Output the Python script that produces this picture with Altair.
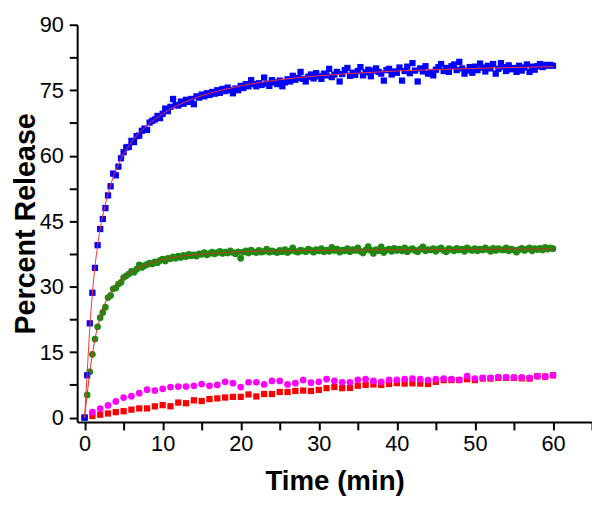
import altair as alt
import pandas as pd

# ---- data ----
blue_values = [
    0.0, 9.7, 21.6, 28.6, 34.3, 39.5, 43.2, 45.5, 48.0, 50.9, 53.0, 55.9, 55.5, 57.5, 59.4,
    60.8, 61.9, 62.0, 63.4, 63.1, 64.5, 64.6, 65.7, 66.2, 65.9, 67.6, 68.0, 68.3, 69.1, 68.6,
    69.6, 70.8, 70.2, 71.2, 73.0, 71.6, 71.5, 72.4, 71.9, 72.8, 72.3, 73.0, 71.8, 73.6, 73.3,
    74.0, 73.6, 74.3, 73.9, 74.6, 74.2, 75.0, 74.4, 75.3, 74.8, 75.6, 75.0, 74.3, 75.4, 75.0,
    76.0, 75.5, 76.4, 75.9, 77.3, 76.4, 75.9, 76.6, 76.2, 77.9, 76.5, 76.0, 77.3, 76.8, 76.4,
    77.2, 75.9, 76.8, 77.5, 77.0, 78.3, 77.4, 77.8, 79.2, 77.6, 77.0, 78.1, 78.6, 77.7, 78.9,
    78.2, 77.6, 78.8, 78.4, 79.9, 78.0, 78.6, 79.2, 77.0, 78.7, 79.6, 80.1, 78.3, 79.0, 78.5,
    79.4, 80.3, 78.4, 79.1, 79.7, 78.2, 79.5, 80.0, 79.2, 78.8, 77.2, 79.6, 79.9, 78.6, 79.3,
    79.0, 80.2, 77.2, 79.4, 80.4, 78.9, 81.2, 79.5, 77.0, 80.0, 79.3, 80.5, 78.8, 79.1, 78.4,
    79.7, 80.3, 81.0, 79.4, 80.1, 79.2, 80.5, 80.9, 79.6, 81.5, 80.0, 78.8, 79.5, 80.3, 79.0,
    80.4, 79.6, 81.1, 80.2, 79.3, 80.6, 80.0, 81.0, 78.8, 79.9, 81.2, 80.3, 79.4, 80.7, 79.8,
    80.1, 79.2, 80.6, 79.5, 80.2, 80.9, 79.2, 80.4, 79.7, 80.5, 81.0, 80.3, 80.8, 80.6, 80.8,
    80.6,
]

green_values = [
    0.0, 5.2, 10.5, 14.5, 18.0, 20.8, 22.9, 24.1, 25.3, 27.5, 28.0, 29.5, 29.7, 30.6, 31.0,
    32.1, 32.5, 32.9, 33.5, 33.3, 34.0, 35.0, 34.4, 34.8, 35.1, 35.4, 35.2, 35.7, 35.5, 36.0,
    36.3, 35.9, 36.5, 36.4, 36.8, 36.5, 37.0, 36.7, 37.2, 36.9, 37.4, 37.1, 37.3, 37.0, 37.5,
    37.4, 37.8, 37.3, 37.6, 37.9, 37.5, 37.8, 38.1, 37.6, 37.9, 37.7, 38.2, 37.8, 37.5, 38.0,
    36.5, 37.9, 38.2, 37.7, 38.4, 38.0, 37.8, 38.3, 37.9, 38.1, 38.6, 37.9, 38.2, 38.0, 37.8,
    38.3, 38.0, 38.5, 37.8, 38.2, 38.9, 38.1, 37.9, 38.4, 38.2, 38.0, 38.6, 38.3, 37.9, 38.5,
    38.2, 38.7, 38.0, 38.4, 38.1, 39.0, 38.3, 38.6, 37.9, 38.4, 38.2, 38.7, 38.0, 38.5, 38.3,
    38.9, 38.1, 37.7, 38.4, 39.2, 38.3, 37.6, 38.5, 38.2, 39.1, 37.8, 38.4, 38.6, 38.1, 38.8,
    38.3, 38.6, 38.2, 38.9, 38.0, 38.5, 38.7, 38.3, 38.0, 38.6, 39.1, 38.2, 38.5, 38.4, 38.7,
    38.1, 38.6, 38.9, 38.3, 38.0, 38.7, 38.5, 38.2, 38.8, 38.4, 38.6, 38.1, 38.9, 38.5, 38.3,
    38.7, 38.2, 38.6, 38.4, 38.9, 38.5, 38.1, 38.8, 38.3, 38.7, 38.5, 38.4, 38.9, 38.2, 38.6,
    38.4, 37.9, 38.5, 38.8, 38.3, 38.6, 38.9, 38.2, 38.7, 38.5, 38.8, 38.4, 39.0, 38.6, 38.9,
    38.7,
]

magenta_values = [
    0.0, 1.25, 2.05, 2.8, 3.7, 4.6, 4.9, 5.6, 6.4, 6.2,
    6.6, 7.0, 7.1, 7.1, 7.3, 7.7, 7.3, 7.5, 8.2, 7.9,
    7.0, 8.1, 8.1, 7.6, 8.4, 8.4, 7.6, 7.9, 8.6, 8.0,
    8.2, 8.8, 8.4, 8.1, 8.1, 8.65, 8.8, 8.4, 8.2, 8.65,
    8.65, 8.8, 8.95, 8.8, 8.6, 8.8, 8.95, 8.8, 8.65, 9.5,
    8.95, 9.1, 9.1, 9.3, 9.2, 9.2, 9.2, 9.1, 9.5, 9.4, 9.7,
]

red_values = [
    0.0, 0.37, 0.66, 0.95, 1.25, 1.47, 1.83, 2.1, 2.1, 2.57,
    2.86, 2.6, 3.45, 3.3, 3.96, 3.8, 4.25, 4.4, 4.6, 4.75,
    4.75, 5.3, 4.85, 5.4, 5.4, 5.87, 5.87, 6.1, 6.2, 6.1,
    6.35, 6.75, 7.0, 6.75, 6.8, 7.3, 7.5, 7.6, 7.5, 7.7,
    7.9, 7.8, 7.85, 7.8, 7.7, 8.2, 8.6, 8.6, 8.6, 8.8,
    8.6, 8.95, 8.95, 9.1, 9.1, 9.1, 9.0, 8.95, 9.5, 9.4, 9.7,
]

fit_time = [0, 0.33, 0.67, 1, 1.33, 1.67, 2, 2.5, 3, 3.5, 4, 4.5, 5, 6, 7, 8, 9, 10,
            12, 14, 16, 18, 20, 25, 30, 35, 40, 45, 50, 55, 60]
blue_fit = [0, 10.2, 20.5, 28.4, 34.6, 39.4, 43.3, 47.6, 51.2, 54.2, 56.6, 58.6, 60.4,
            63.1, 65.2, 66.9, 68.3, 69.6, 71.6, 73.1, 74.3, 75.2, 76.0, 77.4, 78.3, 78.9,
            79.4, 79.7, 80.0, 80.2, 80.4]
green_fit = [0, 5.3, 10.4, 14.5, 18.0, 20.8, 23.0, 25.7, 27.6, 29.1, 30.3, 31.3, 32.1,
             33.4, 34.4, 35.1, 35.7, 36.2, 36.9, 37.3, 37.6, 37.8, 38.0, 38.2, 38.3, 38.4,
             38.45, 38.5, 38.55, 38.6, 38.6]

x_ticks = [0, 5, 10, 15, 20, 25, 30, 35, 40, 45, 50, 55, 60, 65]
y_ticks = [0, 7.5, 15, 22.5, 30, 37.5, 45, 52.5, 60, 67.5, 75, 82.5, 90]

# sampling grids
fast_time = [round(i / 3, 3) for i in range(len(blue_values))]
slow_time = list(range(len(red_values)))

blue_df = pd.DataFrame({"t": fast_time, "v": blue_values})
green_df = pd.DataFrame({"t": fast_time, "v": green_values})
magenta_df = pd.DataFrame({"t": slow_time, "v": magenta_values})
red_df = pd.DataFrame({"t": slow_time, "v": red_values})
bfit_df = pd.DataFrame({"t": fit_time, "v": blue_fit})
gfit_df = pd.DataFrame({"t": fit_time, "v": green_fit})

FONT = "Liberation Sans"
W, H = 521, 402

x_enc = alt.X(
    "t:Q",
    scale=alt.Scale(domain=[-0.95, 65], nice=False, zero=False),
    axis=alt.Axis(
        values=x_ticks,
        labelExpr="datum.value % 10 == 0 && datum.value <= 60 ? datum.label : ''",
        title="Time (min)",
        grid=False,
        labelFlush=False,
        tickSize=8,
        tickWidth=2,
        tickColor="black",
        domainWidth=2,
        domainColor="black",
        labelFont=FONT,
        labelFontSize=22,
        labelColor="black",
        labelPadding=4,
        titleFont=FONT,
        titleFontSize=28,
        titleFontWeight="bold",
        titleColor="black",
        titleBaseline="alphabetic",
        titleX=W / 2,
        titleY=68,
    ),
)
y_enc = alt.Y(
    "v:Q",
    scale=alt.Scale(domain=[-1, 90], nice=False, zero=False),
    axis=alt.Axis(
        values=y_ticks,
        labelExpr="datum.value % 15 == 0 ? datum.label : ''",
        title="Percent Release",
        grid=False,
        labelFlush=False,
        tickSize=8,
        tickWidth=2,
        tickColor="black",
        domainWidth=2,
        domainColor="black",
        labelFont=FONT,
        labelFontSize=22,
        labelColor="black",
        labelPadding=6,
        titleFont=FONT,
        titleFontSize=29,
        titleFontWeight="bold",
        titleColor="black",
        titleBaseline="alphabetic",
        titleAngle=270,
        titleX=-43,
        titleY=H / 2,
    ),
)

red_pts = alt.Chart(red_df).mark_square(size=40, color="#ff0000", opacity=1).encode(x=x_enc, y=y_enc)
mag_pts = alt.Chart(magenta_df).mark_circle(size=46, color="#ff00ff", opacity=1).encode(x=x_enc, y=y_enc)
green_pts = alt.Chart(green_df).mark_circle(size=46, color="#1f8a12", opacity=1).encode(x=x_enc, y=y_enc)
blue_pts = alt.Chart(blue_df).mark_square(size=40, color="#0000ff", opacity=1).encode(x=x_enc, y=y_enc)
bfit_line = alt.Chart(bfit_df).mark_line(color="#ff3030", strokeWidth=1, interpolate="monotone").encode(x=x_enc, y=y_enc)
gfit_line = alt.Chart(gfit_df).mark_line(color="#d03020", strokeWidth=1, interpolate="monotone").encode(x=x_enc, y=y_enc)

chart = (
    alt.layer(red_pts, mag_pts, green_pts, blue_pts, gfit_line, bfit_line)
    .properties(
        width=W,
        height=H,
        autosize=alt.AutoSizeParams(type="none"),
        padding={"left": 70, "top": 14, "right": 0, "bottom": 75},
        background="white",
    )
    .configure_view(stroke=None)
)

chart.save("out.html", embed_options={"renderer": "svg", "actions": False})
